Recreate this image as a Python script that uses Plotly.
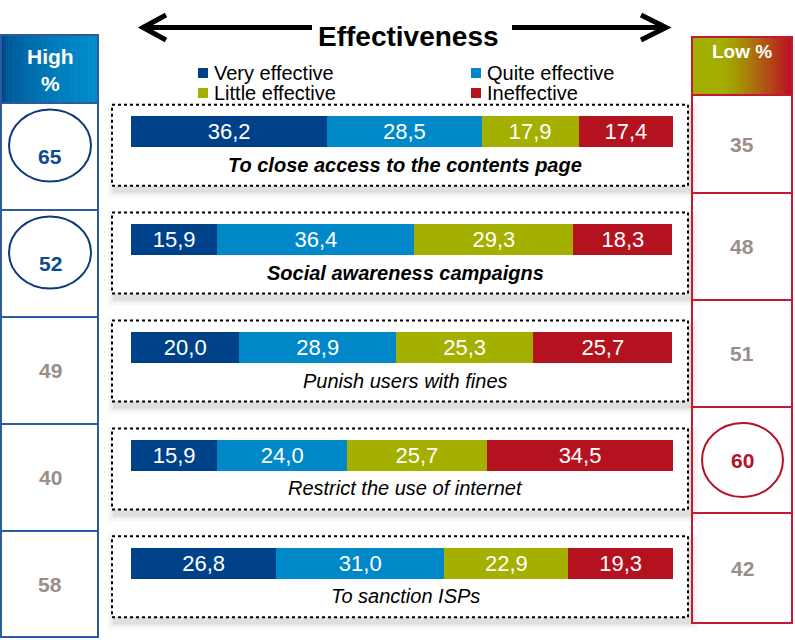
import plotly.graph_objects as go

measures = ["To close access to the contents page", "Social awareness campaigns",
            "Punish users with fines", "Restrict the use of internet", "To sanction ISPs"]
bold_label = [True, True, False, False, False]

levels = ["Very effective", "Quite effective", "Little effective", "Ineffective"]
very = [36.2, 15.9, 20.0, 15.9, 26.8]
quite = [28.5, 36.4, 28.9, 24.0, 31.0]
little = [17.9, 29.3, 25.3, 25.7, 22.9]
ineffective = [17.4, 18.3, 25.7, 34.5, 19.3]

high = [65, 52, 49, 40, 58]
low = [35, 48, 51, 60, 42]
high_circled = [True, True, False, False, False]
low_circled = [False, False, False, True, False]

colors = ["#00428a", "#0088c8", "#a3b000", "#b5121f"]
W, H = 795, 640
FONT = "Liberation Sans, Arial, sans-serif"


def px(x):
    return x / W


def py(y):
    return 1 - y / H


def rect(x0, y0, x1, y1, **kw):
    return dict(type="rect", xref="paper", yref="paper",
                x0=px(x0), x1=px(x1), y0=py(y0), y1=py(y1), **kw)


def label(x, y, text, size, color, xanchor="center"):
    return dict(x=px(x), y=py(y), xref="paper", yref="paper", text=text,
                xanchor=xanchor, yanchor="middle", showarrow=False,
                font=dict(size=size, color=color, family=FONT))


fig = go.Figure()
for name, vals, col in zip(levels, [very, quite, little, ineffective], colors):
    fig.add_trace(go.Bar(
        y=measures, x=vals, name=name, orientation="h", marker_color=col,
        marker_line_width=0, width=0.292,
        texttemplate="%{x:.1f}", textposition="inside", insidetextanchor="middle",
        textangle=0, constraintext="none",
        textfont=dict(color="white", size=22, family=FONT),
        hoverinfo="skip", showlegend=False,
    ))

# bar row centres (pixels) as laid out by the category axis
top_px, bot_px = 77.75, 617.3
step = (bot_px - top_px) / 5
centres = [top_px + step * (i + 0.5) for i in range(len(measures))]

shapes = []
annotations = []

# dotted boxes with soft shadow
for c in centres:
    for k, a in [(7, 0.03), (4, 0.045), (2, 0.055)]:
        shapes.append(rect(112 - k + 3, c - 27 - k + 5, 688 + k + 3, c + 54 + k + 5,
                           fillcolor=f"rgba(0,0,0,{a})", line_width=0, layer="below"))
    shapes.append(rect(112, c - 27, 688, c + 54, fillcolor="white",
                       line=dict(color="black", width=2, dash="dot"), layer="below"))

for m, b in zip(measures, bold_label):
    txt = f"<b><i>{m}</i></b>" if b else f"<i>{m}</i>"
    annotations.append(dict(x=px(405), xref="paper", y=m, yref="y", yshift=-33,
                            xanchor="center", yanchor="middle",
                            text=txt, showarrow=False,
                            font=dict(size=20, color="black", family=FONT)))


def lerp(c1, c2, t):
    a = [int(c1[i:i + 2], 16) for i in (1, 3, 5)]
    b = [int(c2[i:i + 2], 16) for i in (1, 3, 5)]
    return "#%02x%02x%02x" % tuple(round(a[j] + (b[j] - a[j]) * t) for j in range(3))


# header gradients
n = 40
for i in range(n):
    t = i / (n - 1)
    x0 = 1 + (98 - 1) * i / n
    x1 = 1 + (98 - 1) * (i + 1) / n + 0.6
    shapes.append(rect(x0, 35, x1, 103, fillcolor=lerp("#004686", "#008dcc", t ** 0.5),
                       line_width=0))
    x0 = 692 + 100 * i / n
    x1 = 692 + 100 * (i + 1) / n + 0.6
    tt = max(0.0, (t - 0.3) / 0.7) ** 1.2
    shapes.append(rect(x0, 37, x1, 95, fillcolor=lerp("#a2ae00", "#bc0f24", tt), line_width=0))

# column frames
left_rows = [103, 210, 317, 424, 531, 637]
right_rows = [95, 193, 300, 407, 513, 623]
blue_line = "#2c5c9e"
red_line = "#c21a30"
shapes.append(rect(1, 35, 98, 637, line=dict(color=blue_line, width=2)))
for y in left_rows[:-1]:
    shapes.append(dict(type="line", xref="paper", yref="paper", x0=px(1), x1=px(98),
                       y0=py(y), y1=py(y), line=dict(color=blue_line, width=2)))
shapes.append(rect(692, 37, 792, 623, line=dict(color=red_line, width=2)))
for y in right_rows[:-1]:
    shapes.append(dict(type="line", xref="paper", yref="paper", x0=px(692), x1=px(792),
                       y0=py(y), y1=py(y), line=dict(color=red_line, width=2)))

grey = "#9a8e89"
for i, (v, circ) in enumerate(zip(high, high_circled)):
    yc = (left_rows[i] + left_rows[i + 1]) / 2
    col = "#0b4a8f" if circ else grey
    annotations.append(label(50, yc, f"<b>{v}</b>", 21, col))
    if circ:
        shapes.append(dict(type="circle", xref="paper", yref="paper",
                           x0=px(9), x1=px(91), y0=py(yc - 47), y1=py(yc + 25),
                           line=dict(color="#0d3a7a", width=2)))
for i, (v, circ) in enumerate(zip(low, low_circled)):
    yc = (right_rows[i] + right_rows[i + 1]) / 2
    col = "#b5122b" if circ else grey
    annotations.append(label(742, yc, f"<b>{v}</b>", 21, col))
    if circ:
        shapes.append(dict(type="circle", xref="paper", yref="paper",
                           x0=px(702), x1=px(783), y0=py(yc - 37), y1=py(yc + 37),
                           line=dict(color="#b5122b", width=2)))

# headers
annotations.append(label(50, 70, "<b>High<br>%</b>", 21, "white"))
annotations.append(label(742, 51, "<b>Low %</b>", 19, "white"))

# title with double arrow
annotations.append(label(408, 36, "<b>Effectiveness</b>", 28, "black"))
arrow = dict(color="black", width=5)
shapes.append(dict(type="line", xref="paper", yref="paper", x0=px(144), x1=px(312),
                   y0=py(27.5), y1=py(27.5), line=arrow))
shapes.append(dict(type="line", xref="paper", yref="paper", x0=px(512), x1=px(665),
                   y0=py(27.5), y1=py(27.5), line=arrow))
shapes.append(dict(type="path", xref="paper", yref="paper",
                   path=f"M {px(166)} {py(15)} L {px(143)} {py(27.5)} L {px(166)} {py(40)}",
                   line=arrow))
shapes.append(dict(type="path", xref="paper", yref="paper",
                   path=f"M {px(641)} {py(15)} L {px(666)} {py(27.5)} L {px(641)} {py(40)}",
                   line=arrow))

# legend
legend_pos = [(198, 73), (471, 73), (198, 93), (471, 93)]
for (lx, ly), name, col in zip(legend_pos, levels, colors):
    shapes.append(rect(lx, ly - 5, lx + 10, ly + 5, fillcolor=col, line_width=0))
    annotations.append(label(lx + 14, ly, name, 20, "black", xanchor="left"))

fig.update_layout(
    width=W, height=H, margin=dict(l=0, r=0, t=0, b=0),
    barmode="stack", separators=",.",
    paper_bgcolor="white", plot_bgcolor="rgba(0,0,0,0)",
    xaxis=dict(domain=[px(131), px(673)], range=[0, 100], visible=False, fixedrange=True),
    yaxis=dict(domain=[py(bot_px), py(top_px)], range=[4.5, -0.5], type="category",
               visible=False, fixedrange=True),
    shapes=shapes, annotations=annotations,
)
fig.write_html("out.html", config={"displayModeBar": False},
               post_script="document.body.style.margin='0';")
